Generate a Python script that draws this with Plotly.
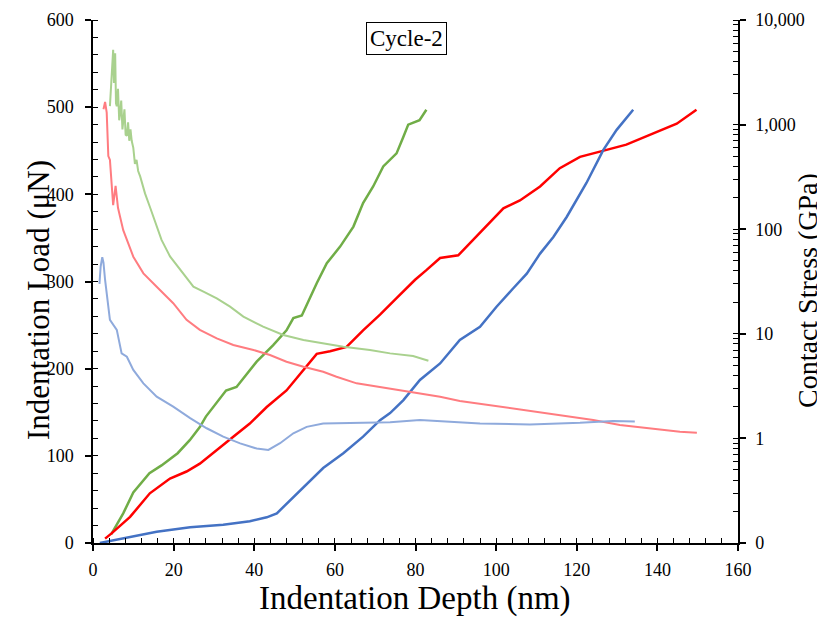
import plotly.graph_objects as go

# ---------------- data ----------------
green_load_x = [4.5, 7.5, 10, 14, 17, 21, 24, 26.5, 28, 33, 35.6, 40.6, 44.7, 48, 49.7, 51.8,
                55.5, 58, 61.3, 64.6, 67, 69.5, 72, 75.3, 77, 78.2, 81, 82.7]
green_load_y = [10, 34, 58, 80, 89, 103, 118, 133, 145, 175, 179, 208, 227, 244, 258, 261,
                298, 321, 340, 363, 390, 409, 432, 447, 466, 480, 485, 497]

red_load_x = [3, 4.6, 9.2, 14.1, 19.1, 23.2, 26.5, 30.7, 34.8, 38.9, 43.1, 48, 52.2, 55.5,
              58.8, 62.9, 67, 71.2, 75.3, 79.9, 82.7, 86.1, 90.6, 93.5, 97.6, 101.8, 105.9,
              110.9, 115.8, 120.8, 127.4, 132.3, 139, 144.8, 149.7]
red_load_y = [5, 11, 30, 57, 74, 82, 91, 107, 122, 137, 156, 175, 198, 217, 220, 225, 244,
              262, 281, 302, 313, 327, 330, 344, 363, 384, 393, 409, 430, 443, 451, 457, 470,
              481, 497]

blue_load_x = [1.7, 7.5, 15.8, 24.1, 32.3, 38.9, 43.1, 45.6, 48.9, 53, 57.1, 62.1, 67, 71.2,
               73.7, 77, 81.1, 86.1, 91, 96, 100.1, 104.2, 107.6, 110.9, 114.2, 117.5, 122.4,
               126.6, 129.9, 134]
blue_load_y = [0, 5, 13, 18, 21, 25, 29.5, 34, 49, 68, 86, 103, 122, 141, 149, 164, 187, 206,
               233, 248, 271, 292, 309, 332, 351, 374, 413, 451, 474, 497]

green_stress_x = [4.2, 4.5, 4.8, 5.0, 5.2, 5.5, 5.7, 5.9, 6.2, 6.5, 6.7, 7.0, 7.3, 7.5, 7.8,
                  8.1, 8.4, 8.7, 9.0, 9.3, 9.6, 10.0, 10.4, 10.8, 11.2, 11.7, 12.9, 14.1,
                  15.8, 17.0, 19.1, 21.6, 24.9, 27.4, 30.7, 34.0, 37.3, 42.2, 47.2, 52.2,
                  57.1, 62.1, 68.7, 73.7, 79.4, 83.2]
green_stress_y = [1500, 2600, 4200, 5200, 2500, 4800, 1600, 1500, 2200, 1100, 1250, 1700,
                  900, 1100, 1400, 800, 780, 1050, 700, 900, 700, 600, 420, 460, 360, 320,
                  220, 164, 106, 79, 55, 41, 28.2, 25.3, 21.8, 18.2, 14.6, 11.7, 9.75, 8.73,
                  8.11, 7.53, 7.0, 6.5, 6.14, 5.53]

red_stress_x = [2.6, 3.0, 3.4, 3.8, 4.2, 4.6, 5.0, 5.6, 6.2, 6.7, 7.5, 10.0, 12.5, 15.8, 19.9,
                23.2, 26.5, 30.7, 34.8, 39.8, 43.9, 48.0, 52.2, 57.1, 60.4, 65.4, 70.4, 76.1,
                86.1, 91.0, 100.1, 105.9, 115.8, 124.1, 130.7, 137.3, 145.6, 149.8]
red_stress_y = [1400, 1650, 1300, 500, 460, 300, 170, 260, 160, 132, 98, 54.6, 37.8, 28.2,
                19.6, 13.6, 10.9, 9.05, 7.82, 7.0, 6.27, 5.41, 4.84, 4.34, 3.89, 3.36, 3.12,
                2.90, 2.50, 2.28, 2.04, 1.87, 1.67, 1.50, 1.34, 1.25, 1.16, 1.13]

blue_stress_x = [1.6, 1.9, 2.3, 2.6, 3.0, 4.2, 5.9, 7.1, 8.4, 10.0, 12.5, 15.8, 19.9, 24.1, 28.2,
                 32.3, 36.5, 40.6, 43.5, 46.4, 49.7, 53.0, 57.1, 65.4, 73.7, 81.1, 96.0,
                 108.4, 120.8, 129.0, 134.4]
blue_stress_y = [30, 44, 54, 48, 32.7, 13.6, 10.9, 6.5, 6.04, 4.51, 3.36, 2.51, 2.01, 1.56, 1.25,
                 1.04, 0.897, 0.80, 0.775, 0.90, 1.12, 1.29, 1.39, 1.41, 1.43, 1.50, 1.39,
                 1.36, 1.41, 1.47, 1.45]

x_ticks = [0, 20, 40, 60, 80, 100, 120, 140, 160]
load_ticks = [0, 100, 200, 300, 400, 500, 600]
stress_tickvals = [0.1, 1, 10, 100, 1000, 10000]
stress_ticktext = ["0", "1", "10", "100", "1,000", "10,000"]

# ---------------- figure ----------------
FONT = "Liberation Serif, Times New Roman, serif"
fig = go.Figure()

light = dict(width=2)
fig.add_trace(go.Scatter(x=green_stress_x, y=green_stress_y, yaxis="y2", mode="lines",
                         line=dict(color="#A9D18E", **light), showlegend=False))
fig.add_trace(go.Scatter(x=red_stress_x, y=red_stress_y, yaxis="y2", mode="lines",
                         line=dict(color="#FF7C80", **light), showlegend=False))
fig.add_trace(go.Scatter(x=blue_stress_x, y=blue_stress_y, yaxis="y2", mode="lines",
                         line=dict(color="#8FAADC", **light), showlegend=False))

dark = dict(width=2.5)
fig.add_trace(go.Scatter(x=green_load_x, y=green_load_y, mode="lines",
                         line=dict(color="#70AD47", **dark), showlegend=False))
fig.add_trace(go.Scatter(x=red_load_x, y=red_load_y, mode="lines",
                         line=dict(color="#FF0000", **dark), showlegend=False))
fig.add_trace(go.Scatter(x=blue_load_x, y=blue_load_y, mode="lines",
                         line=dict(color="#4472C4", **dark), showlegend=False))

axis_common = dict(showgrid=False, zeroline=False, showline=True, linecolor="black",
                   linewidth=1.5, tickcolor="black", tickwidth=1.5, automargin=False,
                   tickfont=dict(family=FONT, size=18, color="black"))
overlay_common = dict(showticklabels=False, showgrid=False, zeroline=False, showline=False,
                      tickcolor="black", tickwidth=1.5, automargin=False)

# page body has an 8px default margin, so the figure is drawn 8px offset
fig.update_layout(
    width=817, height=611,
    margin=dict(l=85, r=87, t=12, b=76, autoexpand=False),
    paper_bgcolor="white", plot_bgcolor="white",
    xaxis=dict(range=[0, 160], tickmode="array", tickvals=x_ticks, ticks="outside",
               ticklen=6, ticklabelstandoff=4,
               minor=dict(ticks="inside", ticklen=5, dtick=4,
                          tickcolor="black", tickwidth=1.2),
               **axis_common),
    yaxis=dict(range=[0, 600], tickmode="array", tickvals=load_ticks, ticks="outside",
               ticklen=6, ticklabelstandoff=8,
               minor=dict(ticks="inside", ticklen=5, dtick=20,
                          tickcolor="black", tickwidth=1.2),
               **axis_common),
    yaxis2=dict(type="log", range=[-1, 4], overlaying="y", side="right", anchor="x",
                tickmode="array", tickvals=stress_tickvals, ticktext=stress_ticktext,
                ticks="outside", ticklen=6, ticklabelstandoff=6,
                minor=dict(ticks="inside", ticklen=5, dtick="D1",
                           tickcolor="black", tickwidth=1.2),
                **axis_common),
    # overlay axes providing the inner half of the crossing major ticks
    xaxis2=dict(range=[0, 160], overlaying="x", anchor="y", side="bottom",
                tickmode="array", tickvals=x_ticks, ticks="inside", ticklen=6,
                **overlay_common),
    yaxis3=dict(range=[0, 600], overlaying="y", anchor="x", side="left",
                tickmode="array", tickvals=load_ticks, ticks="inside", ticklen=6,
                **overlay_common),
    yaxis4=dict(type="log", range=[-1, 4], overlaying="y", anchor="x", side="right",
                tickmode="array", tickvals=stress_tickvals, ticks="inside", ticklen=6,
                **overlay_common),
    annotations=[
        dict(text="Cycle-2", x=(406 - 93) / 645, y=(543 - 38) / 523, xref="paper",
             yref="paper", xanchor="center", yanchor="middle",
             showarrow=False, font=dict(family=FONT, size=23, color="black"),
             bordercolor="black", borderwidth=1, borderpad=3, bgcolor="white"),
        dict(text="Indentation Depth (nm)", x=(415 - 93) / 645, y=(543 - 598) / 523,
             xref="paper", yref="paper", xanchor="center", yanchor="middle",
             showarrow=False, font=dict(family=FONT, size=33, color="black")),
        dict(text="Indentation Load (μN)", x=(38 - 93) / 645, y=(543 - 300) / 523,
             xref="paper", yref="paper", xanchor="center", yanchor="middle",
             textangle=-90, showarrow=False,
             font=dict(family=FONT, size=31, color="black")),
        dict(text="Contact Stress (GPa)", x=(807 - 93) / 645, y=(543 - 291) / 523,
             xref="paper", yref="paper", xanchor="center", yanchor="middle",
             textangle=-90, showarrow=False,
             font=dict(family=FONT, size=28, color="black")),
    ],
)

fig.write_html("out.html")
